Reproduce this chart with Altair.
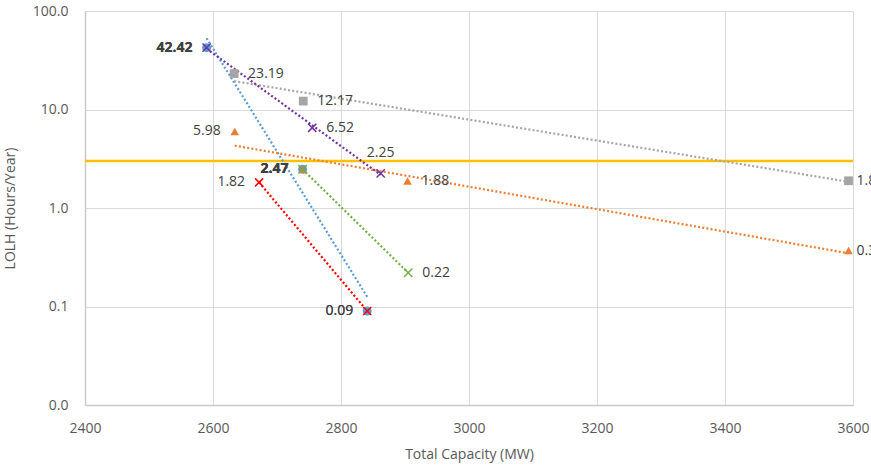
import altair as alt
import pandas as pd

# ---- data ----
series_names = ["Blue", "Gray", "Orange", "Green", "Purple", "Red"]
blue_x = [2590, 2740, 2841]
blue_y = [42.42, 2.47, 0.09]
gray_x = [2633, 2741, 3593]
gray_y = [23.19, 12.17, 1.89]
orange_x = [2634, 2740, 2904, 3593]
orange_y = [5.98, 2.47, 1.88, 0.37]
green_x = [2740, 2905]
green_y = [2.47, 0.22]
purple_x = [2590, 2755, 2862]
purple_y = [42.42, 6.52, 2.25]
red_x = [2672, 2841]
red_y = [1.82, 0.09]
threshold = [3.0]

x_ticks = [2400, 2600, 2800, 3000, 3200, 3400, 3600]
y_ticks = [0.01, 0.1, 1, 10, 100]

# ---- styles ----
colors = ["#5B9BD5", "#A5A5A5", "#ED7D31", "#70AD47", "#7030A0", "#FF0000"]
xpath = "M-1,-1L1,1M1,-1L-1,1"
shapes = ["circle", "square", "triangle-up", xpath, xpath, xpath]
marker_sizes = [80, 64, 110, 64, 64, 64]

# label placement (style, not data)
left_labels = {("Blue", 0), ("Blue", 1), ("Blue", 2), ("Purple", 0), ("Orange", 0),
               ("Orange", 1), ("Green", 0), ("Red", 0), ("Red", 1)}
edge_labels = {("Gray", 2), ("Orange", 3)}
above_labels = {("Purple", 2)}
bold_values = {"42.42", "2.47"}

xs = [blue_x, gray_x, orange_x, green_x, purple_x, red_x]
ys = [blue_y, gray_y, orange_y, green_y, purple_y, red_y]
rows = []
for name, sx, sy in zip(series_names, xs, ys):
    for i, (xv, yv) in enumerate(zip(sx, sy)):
        key = (name, i)
        if key in left_labels:
            side = "left"
        elif key in edge_labels:
            side = "edge"
        elif key in above_labels:
            side = "above"
        else:
            side = "right"
        lab = f"{yv:.2f}"
        rows.append({"series": name, "x": xv, "y": yv, "label": lab, "side": side,
                     "bold": lab in bold_values})
df = pd.DataFrame(rows)

FONT = "Open Sans"
xscale = alt.Scale(domain=[2400, 3600], nice=False, zero=False)
yscale = alt.Scale(type="log", domain=[0.01, 100], nice=False)
cscale = alt.Scale(domain=series_names, range=colors)
sscale = alt.Scale(domain=series_names, range=shapes)
zscale = alt.Scale(domain=series_names, range=marker_sizes)

xaxis = alt.Axis(values=x_ticks, title="Total Capacity (MW)", format="d",
                 labelPadding=16, titleY=49, titleBaseline="middle", labelFlush=False)
yaxis = alt.Axis(values=y_ticks, format=".1f", title="LOLH (Hours/Year)",
                 labelPadding=17, titleX=-75, titleY=197, titleAngle=270,
                 titleAlign="center", titleBaseline="middle", labelFlush=False)

X = alt.X("x:Q", scale=xscale, axis=xaxis)
Y = alt.Y("y:Q", scale=yscale, axis=yaxis)

rule = alt.Chart(pd.DataFrame({"y": threshold})).mark_rule(
    color="#FFC000", strokeWidth=2.5).encode(y=alt.Y("y:Q", scale=yscale, axis=yaxis))

trend = alt.Chart(df).transform_calculate(
    ly="log(datum.y)/LN10"
).transform_regression(
    "x", "ly", method="linear", groupby=["series"]
).transform_calculate(
    yy="pow(10, datum.ly)"
).mark_line(strokeDash=[2, 2.2], strokeWidth=2.2, strokeCap="butt").encode(
    x=X,
    y=alt.Y("yy:Q", scale=yscale, axis=yaxis),
    color=alt.Color("series:N", scale=cscale, legend=None),
    detail="series:N",
)

filled_pts = alt.Chart(df).transform_filter(
    alt.FieldOneOfPredicate(field="series", oneOf=["Blue", "Gray", "Orange"])
).mark_point(filled=True, opacity=1).encode(
    x=X, y=Y,
    color=alt.Color("series:N", scale=cscale, legend=None),
    shape=alt.Shape("series:N", scale=sscale, legend=None),
    size=alt.Size("series:N", scale=zscale, legend=None),
)

x_pts = alt.Chart(df).transform_filter(
    alt.FieldOneOfPredicate(field="series", oneOf=["Green", "Purple", "Red"])
).mark_point(filled=False, strokeWidth=1.5, opacity=1).encode(
    x=X, y=Y,
    color=alt.Color("series:N", scale=cscale, legend=None),
    shape=alt.Shape("series:N", scale=sscale, legend=None),
    size=alt.Size("series:N", scale=zscale, legend=None),
)


def labels(side, align, dx, bold, dy=0):
    return alt.Chart(df).transform_filter(
        (alt.datum.side == side) & (alt.datum.bold == bold)
    ).mark_text(align=align, baseline="middle", dx=dx, dy=dy, font=FONT,
                fontSize=14, color="#404040",
                fontWeight="bold" if bold else "normal").encode(
        x=X, y=Y, text="label:N",
    )


chart = alt.layer(
    rule, trend, filled_pts, x_pts,
    labels("left", "right", -14, False),
    labels("left", "right", -14, True),
    labels("right", "left", 14, False),
    labels("edge", "left", 8, False),
    labels("above", "center", 0, False, -20),
).properties(
    width=768, height=394,
    autosize=alt.AutoSizeParams(type="none"),
    padding={"left": 85, "top": 11, "right": 18, "bottom": 64},
).configure_view(
    stroke=None
).configure_axis(
    grid=True, gridColor="#D9D9D9", gridWidth=1,
    domainColor="#C9C9C9", domainWidth=1.5,
    ticks=False, tickSize=0,
    labelFont=FONT, labelFontSize=14, labelColor="#595959",
    titleFont=FONT, titleFontSize=14, titleColor="#595959", titleFontWeight="normal",
)

chart.save("out.html", embed_options={"renderer": "svg", "actions": False})
